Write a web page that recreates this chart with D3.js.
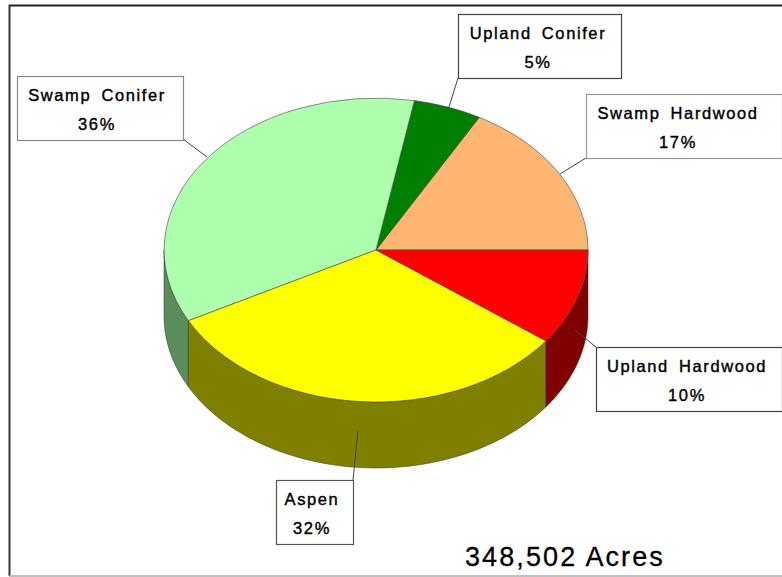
<!DOCTYPE html>
<html><head><meta charset="utf-8">
<script src="https://cdn.jsdelivr.net/npm/d3@7/dist/d3.min.js"></script>
<style>html,body{margin:0;padding:0;background:#fff;overflow:hidden}svg{display:block}
text{font-family:"Liberation Sans",Arial,sans-serif;fill:#000}</style></head><body>
<svg id="c" width="782" height="577"></svg>
<script>
const categories = ["Swamp Hardwood","Upland Conifer","Swamp Conifer","Aspen","Upland Hardwood"];
const shares = [16.9,5.2,35.6,32.1,10.2];
const topColors = ["#ffb673","#007f00","#adffad","#ffff00","#ff0000"];
const wallColors = ["#805b3a","#004000","#5b8c5b","#808000","#800000"];
const totalLabel = "348,502 Acres";

const cx=376, cy=250, rx=212, ry=152, depth=66;
const svg=d3.select("#c");
const fmt=d3.format(".0f");

// frame
svg.append("line").attr("x1",9.5).attr("x2",9.5).attr("y1",5).attr("y2",576).attr("stroke","#333").attr("stroke-width",2);
svg.append("line").attr("x1",9).attr("x2",782).attr("y1",5.5).attr("y2",5.5).attr("stroke","#222").attr("stroke-width",2);
svg.append("line").attr("x1",9).attr("x2",782).attr("y1",576).attr("y2",576).attr("stroke","#aaa").attr("stroke-width",1.5);

const pie=d3.pie().sort(null).startAngle(Math.PI/2).endAngle(Math.PI/2-2*Math.PI);
const slices=pie(shares);
const proj=(a,dz=0)=>[cx+rx*Math.sin(a), cy-ry*Math.cos(a)+dz];
const lineGen=d3.line();

// pie angles run from +90deg down to -270deg; the visible front rim is -90deg..-270deg
const frontA=-Math.PI/2, frontB=-3*Math.PI/2;
slices.forEach((s,i)=>{
  const a0=Math.min(s.startAngle,frontA), a1=Math.max(s.endAngle,frontB);
  if(a0<=a1) return;
  const angs=d3.range(0,61).map(k=>a0+(a1-a0)*k/60);
  const pts=angs.map(a=>proj(a)).concat(angs.slice().reverse().map(a=>proj(a,depth)));
  svg.append("path").attr("d",lineGen(pts)+"Z").attr("fill",wallColors[i]).attr("stroke","#333").attr("stroke-width",.5);
});

// tops
const arcGen=d3.arc().innerRadius(0).outerRadius(1);
const topG=svg.append("g").attr("transform",`translate(${cx},${cy}) scale(${rx},${ry})`);
topG.selectAll("path").data(slices).join("path")
  .attr("d",arcGen).attr("fill",(d,i)=>topColors[i])
  .attr("stroke","#444").attr("stroke-width",.6).attr("vector-effect","non-scaling-stroke");

// callouts
const boxX=[586,458,17,276,596], boxY=[94,14,76,480,347], boxW=[196,163,166,77,186], boxH=64;
const boxStroke=["#999","#444","#888","#555","#444"];
const leaderA=[[586,158],[458,78],[183,139],[353,480],[596,347]];
const leaderB=[[560,174],[449,107],[207,157],[358,430],[575,330]];
const textX=[678,538,97,312,687];

categories.forEach((c,i)=>{
  svg.append("path").attr("d",lineGen([leaderA[i],leaderB[i]])).attr("stroke","#444").attr("stroke-width",1).attr("fill","none");
  svg.append("rect").attr("x",boxX[i]+.5).attr("y",boxY[i]+.5).attr("width",boxW[i]).attr("height",boxH)
    .attr("fill","#fff").attr("stroke",boxStroke[i]).attr("stroke-width",1.2);
  const t=svg.append("g").attr("text-anchor","middle").attr("font-size",16.5).attr("letter-spacing",1.6).attr("word-spacing",4)
    .attr("stroke","#000").attr("stroke-width",.4);
  t.append("text").attr("x",textX[i]).attr("y",boxY[i]+25).text(c);
  t.append("text").attr("x",textX[i]).attr("y",boxY[i]+54).text(fmt(shares[i])+"%");
});

svg.append("text").attr("x",465).attr("y",566).attr("font-size",27).attr("letter-spacing",2.1).attr("stroke","#000").attr("stroke-width",.3).text(totalLabel);
</script></body></html>
